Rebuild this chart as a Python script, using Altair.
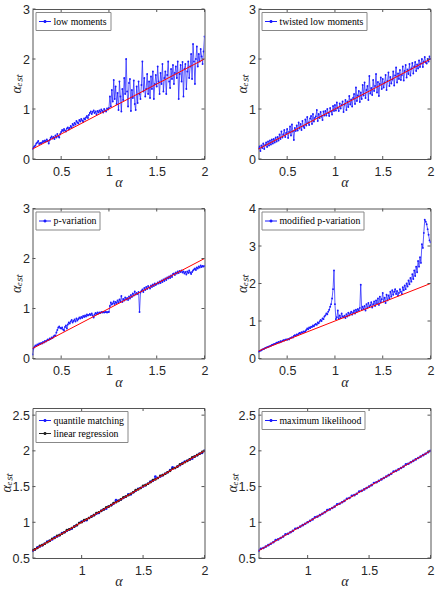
import altair as alt
import pandas as pd

# alpha grids (true parameter values)
alpha_top = [round(0.20 + 0.01 * i, 2) for i in range(181)]
alpha_bot = [round(0.60 + 0.02 * i, 2) for i in range(71)]

low_moments = [
    0.20, 0.23, 0.25, 0.27, 0.31, 0.33, 0.36, 0.30, 0.32, 0.31,
    0.33, 0.36, 0.34, 0.37, 0.35, 0.39, 0.36, 0.31, 0.38, 0.42,
    0.45, 0.41, 0.44, 0.40, 0.47, 0.43, 0.50, 0.45, 0.43, 0.50,
    0.54, 0.58, 0.56, 0.60, 0.57, 0.55, 0.61, 0.63, 0.59, 0.62,
    0.66, 0.63, 0.70, 0.67, 0.72, 0.69, 0.76, 0.73, 0.71, 0.78,
    0.75, 0.80, 0.77, 0.74, 0.81, 0.79, 0.83, 0.86, 0.82, 0.88,
    0.92, 0.95, 0.90, 0.94, 0.97, 0.92, 0.95, 0.89, 0.96, 0.93,
    0.97, 0.94, 0.99, 0.96, 0.93, 1.00, 0.97, 0.95, 1.01, 0.99,
    1.02, 1.25, 1.05, 1.38, 1.15, 1.58, 1.20, 1.45, 1.10, 1.32,
    0.98, 1.55, 1.25, 0.95, 1.40, 1.18, 1.62, 1.30, 2.00, 1.35,
    1.05, 1.52, 1.60, 0.96, 1.38, 1.22, 1.57, 1.10, 0.98, 1.45,
    1.12, 1.55, 1.30, 1.20, 1.48, 1.95, 1.35, 1.62, 1.25, 1.40,
    1.70, 1.30, 1.55, 1.22, 1.65, 1.40, 1.75, 1.20, 1.50, 1.68,
    1.45, 1.85, 1.55, 1.30, 1.72, 1.50, 1.90, 1.35, 1.62, 1.75,
    1.30, 1.68, 1.95, 1.55, 1.42, 1.80, 1.60, 1.88, 1.50, 1.72,
    1.85, 1.62, 1.95, 1.20, 1.70, 1.88, 1.55, 1.94, 1.25, 1.80,
    1.90, 1.40, 1.75, 1.95, 1.62, 1.85, 2.10, 1.60, 2.30, 1.95,
    1.50, 2.00, 2.25, 1.85, 2.10, 1.95, 2.20, 2.05, 1.90, 2.15,
    2.45,
]

twisted_low_moments = [
    0.21, 0.25, 0.16, 0.27, 0.22, 0.31, 0.20, 0.28, 0.33, 0.24,
    0.35, 0.27, 0.37, 0.29, 0.39, 0.31, 0.40, 0.33, 0.43, 0.35,
    0.44, 0.37, 0.49, 0.40, 0.55, 0.43, 0.49, 0.58, 0.44, 0.52,
    0.60, 0.42, 0.54, 0.65, 0.47, 0.69, 0.55, 0.38, 0.62, 0.56,
    0.67, 0.57, 0.73, 0.61, 0.70, 0.58, 0.76, 0.65, 0.62, 0.79,
    0.67, 0.84, 0.73, 0.68, 0.81, 0.86, 0.70, 0.90, 0.75, 0.82,
    0.85, 0.98, 0.76, 0.90, 0.82, 0.94, 0.85, 0.78, 0.95, 0.87,
    0.96, 0.87, 1.00, 0.92, 0.86, 1.02, 0.95, 0.89, 1.06, 0.96,
    1.08, 0.97, 1.13, 1.02, 0.96, 1.11, 1.01, 1.08, 1.15, 0.94,
    1.09, 1.18, 0.98, 1.15, 1.04, 1.26, 1.09, 1.19, 1.05, 1.22,
    1.30, 1.10, 1.43, 1.16, 1.27, 1.36, 1.14, 1.33, 1.20, 1.48,
    1.27, 1.53, 1.22, 1.38, 1.46, 1.18, 1.66, 1.31, 1.42, 1.28,
    1.58, 1.36, 1.46, 1.70, 1.33, 1.54, 1.26, 1.50, 1.63, 1.40,
    1.60, 1.43, 1.53, 1.68, 1.38, 1.56, 1.73, 1.46, 1.64, 1.51,
    1.59, 1.75, 1.47, 1.67, 1.83, 1.53, 1.71, 1.60, 1.78, 1.58,
    1.68, 1.85, 1.57, 1.76, 1.88, 1.63, 1.79, 1.70, 1.90, 1.67,
    1.81, 1.92, 1.71, 1.85, 1.94, 1.76, 1.89, 1.81, 1.97, 1.84,
    1.91, 2.00, 1.84, 1.95, 2.04, 1.93, 1.91, 2.00, 1.95, 2.05,
    2.00,
]

p_variation = [
    0.08, 0.20, 0.23, 0.26, 0.25, 0.28, 0.27, 0.30, 0.29, 0.31,
    0.30, 0.33, 0.32, 0.35, 0.34, 0.36, 0.38, 0.37, 0.40, 0.39,
    0.42, 0.41, 0.44, 0.46, 0.45, 0.52, 0.57, 0.62, 0.64, 0.61,
    0.60, 0.62, 0.58, 0.56, 0.63, 0.66, 0.60, 0.68, 0.72, 0.70,
    0.74, 0.77, 0.72, 0.75, 0.78, 0.74, 0.80, 0.76, 0.79, 0.82,
    0.80, 0.83, 0.81, 0.85, 0.83, 0.86, 0.84, 0.88, 0.86, 0.87,
    0.89, 0.87, 0.90, 0.86, 0.82, 0.88, 0.91, 0.89, 0.92, 0.90,
    0.92, 0.91, 0.93, 0.92, 0.93, 0.92, 0.93, 0.93, 0.92, 0.93,
    0.93, 1.05, 1.12, 1.08, 1.10, 1.14, 1.09, 1.13, 1.11, 1.16,
    1.12, 1.18, 1.14, 1.25, 1.13, 1.19, 1.16, 1.22, 1.18, 1.21,
    1.17, 1.24, 1.20, 1.27, 1.23, 1.30, 1.26, 1.34, 1.28, 1.31,
    1.29, 1.33, 0.93, 1.32, 1.35, 1.38, 1.33, 1.41, 1.37, 1.43,
    1.39, 1.45, 1.42, 1.40, 1.46, 1.43, 1.48, 1.45, 1.50, 1.47,
    1.49, 1.52, 1.50, 1.54, 1.51, 1.56, 1.53, 1.58, 1.55, 1.60,
    1.57, 1.62, 1.60, 1.64, 1.61, 1.66, 1.63, 1.69, 1.70, 1.67,
    1.72, 1.70, 1.74, 1.71, 1.75, 1.73, 1.76, 1.72, 1.74, 1.70,
    1.73, 1.68, 1.74, 1.71, 1.76, 1.72, 1.69, 1.73, 1.76, 1.78,
    1.80, 1.77, 1.82, 1.80, 1.84, 1.82, 1.86, 1.83, 1.85, 1.84,
    1.85,
]

modified_p_variation = [
    0.18, 0.20, 0.21, 0.22, 0.24, 0.25, 0.26, 0.28, 0.29, 0.30,
    0.31, 0.32, 0.33, 0.34, 0.36, 0.37, 0.38, 0.39, 0.40, 0.42,
    0.42, 0.44, 0.43, 0.46, 0.45, 0.47, 0.49, 0.48, 0.50, 0.51,
    0.50, 0.52, 0.51, 0.54, 0.55, 0.57, 0.56, 0.60, 0.62, 0.61,
    0.64, 0.63, 0.66, 0.68, 0.67, 0.70, 0.69, 0.72, 0.71, 0.73,
    0.76, 0.80, 0.78, 0.83, 0.81, 0.85, 0.84, 0.88, 0.86, 0.90,
    0.92, 0.90, 0.96, 0.94, 0.99, 1.03, 1.00, 1.07, 1.05, 1.12,
    1.15, 1.20, 1.18, 1.25, 1.30, 1.38, 1.45, 1.60, 1.85, 2.35,
    1.45, 1.05, 1.10, 1.28, 1.06, 1.15, 1.08, 1.20, 1.12, 1.10,
    1.14, 1.08, 1.18, 1.12, 1.22, 1.15, 1.20, 1.25, 1.17, 1.23,
    1.28, 1.20, 1.30, 1.25, 1.32, 1.28, 1.35, 1.97, 1.30, 1.38,
    1.32, 1.40, 1.28, 1.45, 1.35, 1.48, 1.38, 1.42, 1.50, 1.36,
    1.45, 1.52, 1.40, 1.55, 1.47, 1.60, 1.43, 1.65, 1.50, 1.58,
    1.75, 1.52, 1.62, 1.48, 1.70, 1.55, 1.68, 1.60, 1.78, 1.65,
    1.82, 1.70, 1.78, 1.85, 1.72, 1.80, 1.68, 1.75, 1.85, 1.78,
    1.72, 1.90, 1.82, 1.95, 1.85, 2.00, 1.92, 2.08, 1.98, 2.15,
    2.05, 2.25, 2.12, 2.35, 2.20, 2.45, 2.30, 2.60, 2.45, 2.70,
    2.55, 3.05, 2.95, 3.35, 3.70, 3.65, 3.58, 3.45, 3.30, 3.15,
    3.10,
]

quantile_matching = [
    0.60, 0.62, 0.65, 0.66, 0.68, 0.70, 0.73, 0.74, 0.76, 0.79,
    0.80, 0.82, 0.85, 0.86, 0.88, 0.90, 0.91, 0.94, 0.96, 0.99,
    1.01, 1.02, 1.03, 1.06, 1.08, 1.10, 1.12, 1.13, 1.16, 1.18,
    1.19, 1.22, 1.24, 1.26, 1.31, 1.30, 1.32, 1.34, 1.36, 1.39,
    1.39, 1.42, 1.44, 1.47, 1.48, 1.50, 1.52, 1.54, 1.57, 1.58,
    1.64, 1.62, 1.64, 1.66, 1.68, 1.70, 1.73, 1.77, 1.76, 1.78,
    1.80, 1.83, 1.85, 1.86, 1.88, 1.89, 1.92, 1.94, 1.96, 1.97,
    2.00,
]

linear_regression = [
    0.61, 0.62, 0.64, 0.67, 0.68, 0.70, 0.72, 0.74, 0.77, 0.78,
    0.81, 0.82, 0.84, 0.86, 0.89, 0.90, 0.92, 0.94, 0.96, 0.99,
    1.00, 1.03, 1.04, 1.06, 1.08, 1.10, 1.13, 1.14, 1.16, 1.18,
    1.21, 1.22, 1.24, 1.27, 1.28, 1.30, 1.32, 1.35, 1.36, 1.38,
    1.40, 1.42, 1.45, 1.46, 1.48, 1.51, 1.52, 1.54, 1.56, 1.59,
    1.60, 1.62, 1.65, 1.66, 1.68, 1.70, 1.72, 1.75, 1.76, 1.78,
    1.81, 1.82, 1.84, 1.86, 1.88, 1.91, 1.92, 1.94, 1.96, 1.98,
    2.00,
]

maximum_likelihood = [
    0.60, 0.63, 0.64, 0.66, 0.68, 0.70, 0.72, 0.75, 0.76, 0.78,
    0.80, 0.83, 0.84, 0.86, 0.88, 0.91, 0.92, 0.94, 0.96, 0.98,
    1.00, 1.02, 1.04, 1.07, 1.08, 1.10, 1.12, 1.14, 1.17, 1.18,
    1.20, 1.22, 1.25, 1.26, 1.28, 1.30, 1.33, 1.34, 1.37, 1.38,
    1.40, 1.43, 1.44, 1.46, 1.48, 1.50, 1.52, 1.55, 1.56, 1.58,
    1.60, 1.62, 1.64, 1.66, 1.68, 1.71, 1.72, 1.74, 1.76, 1.78,
    1.81, 1.82, 1.84, 1.86, 1.88, 1.90, 1.92, 1.94, 1.96, 1.98,
    2.00,
]

xticks_top = [0.5, 1, 1.5, 2]
xticks_bot = [1, 1.5, 2]
yticks_03 = [0, 1, 2, 3]
yticks_04 = [0, 1, 2, 3, 4]
yticks_bot = [0.5, 1, 1.5, 2, 2.5]

BLUE = "#1a1aff"
RED = "#ff0000"
BLACK = "#222222"
BOX = "#555555"
W, H = 172, 150
SYMBOL = "M-1,0H1M-0.15,-0.15H0.15V0.15H-0.15Z"


def panel(xs, series, names, colors, xdom, ydom, xticks, yticks, msize):
    rows = []
    for name, ys in zip(names, series):
        for x, y in zip(xs, ys):
            rows.append({"alpha": x, "est": y, "method": name})
    df = pd.DataFrame(rows)
    xscale = alt.Scale(domain=xdom, nice=False, zero=False)
    yscale = alt.Scale(domain=ydom, nice=False, zero=False)
    xaxis = alt.Axis(values=xticks, tickCount=12, format="~g", title="α",
                     ticks=False, tickSize=0, domain=False, grid=False,
                     labelFlush=False, labelOverlap=False, labelPadding=6,
                     titlePadding=-2)
    yaxis = alt.Axis(values=yticks, tickCount=12, format="~g", title="αₑₛₜ",
                     ticks=False, tickSize=0, domain=False, grid=False,
                     labelFlush=False, labelOverlap=False, labelPadding=3,
                     titlePadding=-1)
    est = alt.Chart(df).mark_line(
        strokeWidth=0.7, clip=True,
        point=alt.OverlayMarkDef(filled=True, size=msize),
    ).encode(
        x=alt.X("alpha:Q", scale=xscale, axis=xaxis),
        y=alt.Y("est:Q", scale=yscale, axis=yaxis),
        color=alt.Color(
            "method:N",
            scale=alt.Scale(domain=names, range=colors),
            sort=names,
            legend=alt.Legend(
                title=None, orient="top-left", offset=3, padding=3,
                strokeColor="#888888", fillColor="white", cornerRadius=0,
                symbolType=SYMBOL, symbolSize=144, symbolStrokeWidth=1,
                labelFont="Liberation Serif", labelFontSize=9.8,
                labelColor="black", labelOffset=2, rowPadding=1,
            ),
        ),
    )
    ref_df = pd.DataFrame({"alpha": [xdom[0], xdom[1]], "est": [xdom[0], xdom[1]]})
    ref = alt.Chart(ref_df).mark_line(color=RED, strokeWidth=1, clip=True).encode(
        x="alpha:Q", y="est:Q"
    )
    xt = pd.DataFrame({"alpha": xticks})
    yt = pd.DataFrame({"est": yticks})
    tx_b = alt.Chart(xt).mark_rule(color=BOX).encode(
        x="alpha:Q", y=alt.value(H), y2=alt.value(H - 3))
    tx_t = alt.Chart(xt).mark_rule(color=BOX).encode(
        x="alpha:Q", y=alt.value(0), y2=alt.value(3))
    ty_l = alt.Chart(yt).mark_rule(color=BOX).encode(
        y="est:Q", x=alt.value(0), x2=alt.value(3))
    ty_r = alt.Chart(yt).mark_rule(color=BOX).encode(
        y="est:Q", x=alt.value(W), x2=alt.value(W - 3))
    return alt.layer(est, ref, tx_b, tx_t, ty_l, ty_r).properties(width=W, height=H)


p1 = panel(alpha_top, [low_moments], ["low moments"], [BLUE],
           [0.2, 2], [0, 3], xticks_top, yticks_03, 3.5)
p2 = panel(alpha_top, [twisted_low_moments], ["twisted low moments"], [BLUE],
           [0.2, 2], [0, 3], xticks_top, yticks_03, 3.5)
p3 = panel(alpha_top, [p_variation], ["p-variation"], [BLUE],
           [0.2, 2], [0, 3], xticks_top, yticks_03, 3.5)
p4 = panel(alpha_top, [modified_p_variation], ["modified p-variation"], [BLUE],
           [0.2, 2], [0, 4], xticks_top, yticks_04, 3.5)
p5 = panel(alpha_bot, [quantile_matching, linear_regression],
           ["quantile matching", "linear regression"], [BLUE, BLACK],
           [0.6, 2], [0.5, 2.6], xticks_bot, yticks_bot, 7)
p6 = panel(alpha_bot, [maximum_likelihood], ["maximum likelihood"], [BLUE],
           [0.6, 2], [0.5, 2.6], xticks_bot, yticks_bot, 7)

chart = alt.concat(
    p1, p2, p3, p4, p5, p6, columns=2,
    spacing={"row": 49.5, "column": 54}, bounds="flush",
).resolve_scale(
    color="independent", x="independent", y="independent"
).properties(
    padding={"left": -1.5, "top": 2, "right": 0, "bottom": 0},
    background="white",
).configure_view(
    stroke=BOX, strokeWidth=1
).configure_axis(
    labelFont="Liberation Sans", labelFontSize=12.5, labelColor="#262626",
    labelOverlap=False,
    titleFont="Liberation Serif", titleFontStyle="italic",
    titleFontWeight="normal", titleFontSize=14, titleColor="#262626",
)

chart.save("out.html", embed_options={"renderer": "svg", "actions": False})
